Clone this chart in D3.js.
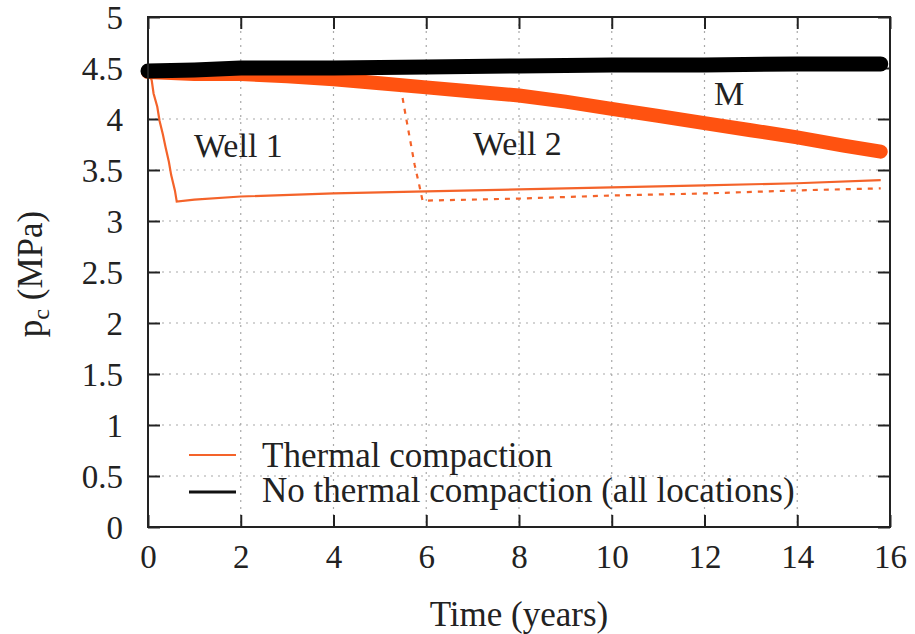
<!DOCTYPE html>
<html>
<head>
<meta charset="utf-8">
<script src="https://cdn.jsdelivr.net/npm/d3@7"></script>
<style>
  html, body { margin: 0; padding: 0; background: #fff; }
  svg { display: block; }
  text { font-family: "Liberation Serif", "DejaVu Serif", serif; fill: #222; }
</style>
</head>
<body>
<svg id="chart" width="915" height="634"></svg>
<script>
// Time axis (years) and tick labels
const xTicks = [0, 2, 4, 6, 8, 10, 12, 14, 16];
const yTicks = [0, 0.5, 1, 1.5, 2, 2.5, 3, 3.5, 4, 4.5, 5];
const yTickLabels = ["0", "0.5", "1", "1.5", "2", "2.5", "3", "3.5", "4", "4.5", "5"];

// No thermal compaction (all locations)
const noThermalT = [0, 1, 2, 4, 6, 8, 10, 12, 14, 15.8];
const noThermalP = [4.47, 4.48, 4.5, 4.5, 4.51, 4.52, 4.53, 4.53, 4.54, 4.54];

// Thermal compaction at location M
const mT = [0, 1, 2, 3, 4, 5, 6, 7, 8, 9, 10, 11, 12, 13, 14, 15, 15.8];
const mP = [4.46, 4.44, 4.44, 4.42, 4.39, 4.35, 4.31, 4.27, 4.23, 4.17, 4.10, 4.03, 3.96, 3.89, 3.82, 3.74, 3.68];

// Thermal compaction at Well 1
const well1T = [0, 0.08, 0.12, 0.2, 0.25, 0.32, 0.38, 0.45, 0.5, 0.58, 0.62, 1, 2, 4, 6, 8, 10, 12, 14, 15.8];
const well1P = [4.47, 4.38, 4.25, 4.12, 3.98, 3.85, 3.72, 3.58, 3.45, 3.3, 3.19, 3.21, 3.24, 3.27, 3.29, 3.31, 3.33, 3.35, 3.37, 3.40];

// Thermal compaction at Well 2
const well2T = [0, 2, 4, 5, 5.45, 5.55, 5.65, 5.75, 5.85, 5.92, 6, 8, 10, 12, 14, 15.8];
const well2P = [4.46, 4.43, 4.37, 4.33, 4.31, 4.05, 3.8, 3.55, 3.35, 3.2, 3.2, 3.22, 3.25, 3.27, 3.30, 3.32];

const orange = "#ff5210";
const orangeThin = "#f4632a";

const svg = d3.select("#chart");
const margin = { left: 148, top: 17, right: 25, bottom: 107 };
const W = 915 - margin.left - margin.right;
const H = 634 - margin.top - margin.bottom;

const x = d3.scaleLinear().domain([0, 16]).range([0, W]);
const y = d3.scaleLinear().domain([0, 5]).range([H, 0]);

const g = svg.append("g").attr("transform", `translate(${margin.left},${margin.top})`);

// Dotted grid
g.append("g").selectAll("line").data(xTicks.slice(1, -1)).join("line")
  .attr("x1", d => x(d)).attr("x2", d => x(d)).attr("y1", 0).attr("y2", H)
  .attr("stroke", "#a8a8a8").attr("stroke-width", 1.2).attr("stroke-dasharray", "2,5");
g.append("g").selectAll("line").data(yTicks.slice(1, -1)).join("line")
  .attr("y1", d => y(d)).attr("y2", d => y(d)).attr("x1", 0).attr("x2", W)
  .attr("stroke", "#a8a8a8").attr("stroke-width", 1.2).attr("stroke-dasharray", "2,5");

// Axes with inward ticks, mirrored on top and right
const tickLen = 12;
const fmtY = d => yTickLabels[yTicks.indexOf(d)];
const axB = g.append("g").attr("transform", `translate(0,${H})`)
  .call(d3.axisBottom(x).tickValues(xTicks).tickSizeInner(-tickLen).tickSizeOuter(0).tickPadding(18).tickFormat(d3.format("d")));
const axL = g.append("g")
  .call(d3.axisLeft(y).tickValues(yTicks).tickSizeInner(-tickLen).tickSizeOuter(0).tickPadding(25).tickFormat(fmtY));
const axT = g.append("g")
  .call(d3.axisTop(x).tickValues(xTicks).tickSizeInner(-tickLen).tickSizeOuter(0).tickFormat(""));
const axR = g.append("g").attr("transform", `translate(${W},0)`)
  .call(d3.axisRight(y).tickValues(yTicks).tickSizeInner(-tickLen).tickSizeOuter(0).tickFormat(""));
[axB, axL, axT, axR].forEach(a => {
  a.select(".domain").remove();
  a.selectAll(".tick line").attr("stroke", "#222").attr("stroke-width", 2);
  a.selectAll(".tick text").attr("font-size", 33).attr("font-family", "Liberation Serif").attr("fill", "#222");
});
axL.selectAll(".tick text").attr("dy", "0.34em");

// Data lines
const line = d3.line().x(d => x(d[0])).y(d => y(d[1]));
const zip = (a, b) => a.map((t, i) => [t, b[i]]);

g.append("path").datum(zip(well2T, well2P)).attr("d", line)
  .attr("fill", "none").attr("stroke", orangeThin).attr("stroke-width", 2.2).attr("stroke-dasharray", "5,6");
g.append("path").datum(zip(well1T, well1P)).attr("d", line)
  .attr("fill", "none").attr("stroke", orangeThin).attr("stroke-width", 2.2);
g.append("path").datum(zip(mT, mP)).attr("d", line)
  .attr("fill", "none").attr("stroke", orange).attr("stroke-width", 14)
  .attr("stroke-linecap", "round").attr("stroke-linejoin", "round");
g.append("path").datum(zip(noThermalT, noThermalP)).attr("d", line)
  .attr("fill", "none").attr("stroke", "#000").attr("stroke-width", 15)
  .attr("stroke-linecap", "round").attr("stroke-linejoin", "round");

// Frame
g.append("rect").attr("x", 0).attr("y", 0).attr("width", W).attr("height", H)
  .attr("fill", "none").attr("stroke", "#222").attr("stroke-width", 2);

// Location labels
g.append("text").attr("x", 194 - margin.left).attr("y", 157 - margin.top).attr("font-size", 34).text("Well 1");
g.append("text").attr("x", 473 - margin.left).attr("y", 155 - margin.top).attr("font-size", 34).text("Well 2");
g.append("text").attr("x", 714 - margin.left).attr("y", 105 - margin.top).attr("font-size", 34).text("M");

// Legend
const legend = g.append("g").attr("transform", `translate(${189 - margin.left},${467 - margin.top})`);
const legItems = [
  { label: "Thermal compaction", color: orangeThin, dy: 0, ly: -12 },
  { label: "No thermal compaction (all locations)", color: "#111", dy: 35, ly: -10 }
];
legItems.forEach((it, i) => {
  const row = legend.append("g").attr("transform", `translate(0,${it.dy})`);
  row.append("line").attr("x1", 0).attr("x2", 47).attr("y1", it.ly).attr("y2", it.ly)
    .attr("stroke", it.color).attr("stroke-width", i === 0 ? 2.2 : 3);
  row.append("text").attr("x", 73).attr("y", 0).attr("font-size", 35).text(it.label);
});

// Axis titles
svg.append("text").attr("x", margin.left + W / 2).attr("y", 626)
  .attr("text-anchor", "middle").attr("font-size", 35).text("Time (years)");
const yt = svg.append("text").attr("transform", `translate(42,${274}) rotate(-90)`)
  .attr("text-anchor", "middle").attr("font-size", 35);
yt.append("tspan").text("p");
yt.append("tspan").attr("font-size", 24).attr("dy", 7).text("c");
yt.append("tspan").attr("dy", -7).text(" (MPa)");
</script>
</body>
</html>
